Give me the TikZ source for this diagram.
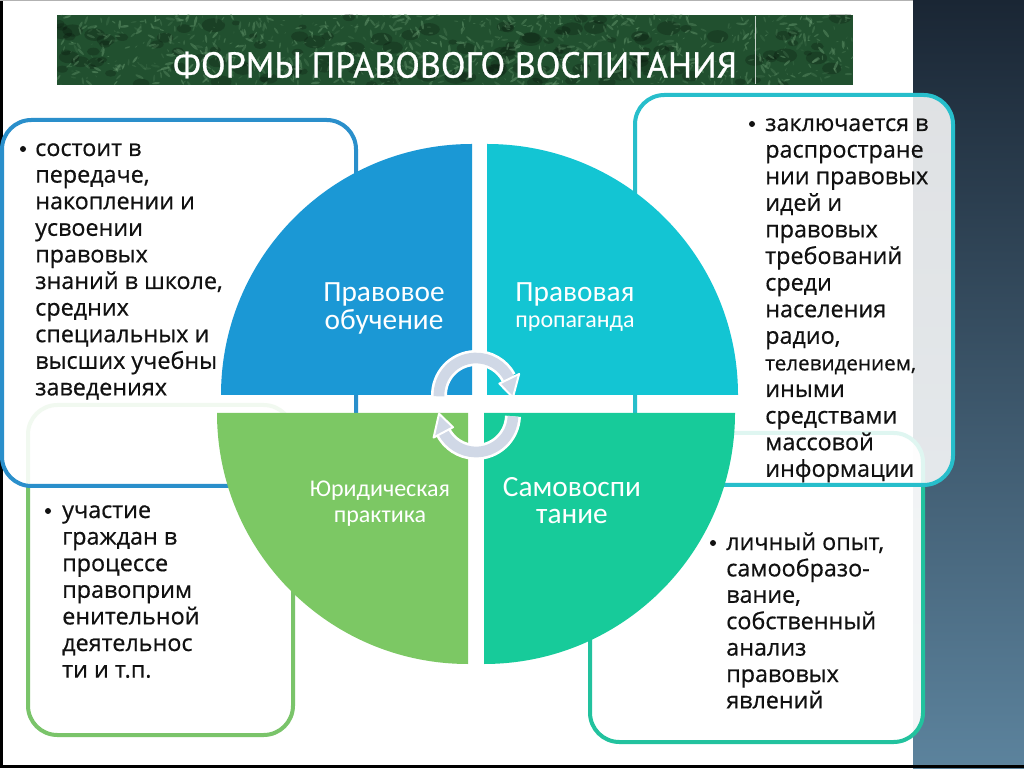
\documentclass[tikz,border=0pt]{standalone}
\usepackage{fontspec}
\setmainfont[FakeBold=0.6]{Open Sans}
\newfontfamily\labfont{Carlito}
\newfontfamily\titlefont[FakeBold=0.8]{PT Sans}
\usetikzlibrary{calc}
\definecolor{stripTop}{HTML}{1A2634}
\definecolor{stripMid}{HTML}{34506A}
\definecolor{stripBot}{HTML}{5C839D}
\definecolor{bannerBase}{HTML}{21502F}
\definecolor{bannerDot}{HTML}{6A9C72}
\definecolor{qTL}{HTML}{1B98D5}
\definecolor{qTR}{HTML}{13C5D3}
\definecolor{qBL}{HTML}{7CC864}
\definecolor{qBR}{HTML}{17CB9A}
\definecolor{bTL}{HTML}{2A8FCB}
\definecolor{bTR}{HTML}{27BECB}
\definecolor{bBL}{HTML}{7AC46A}
\definecolor{bBR}{HTML}{22C29E}
\definecolor{arrowFill}{HTML}{D0D8E6}
\definecolor{bodyText}{HTML}{111111}
\tikzset{
  infobox/.style={line width=3pt, rounded corners=22, fill=white},
  bodytext/.style={anchor=base west, align=left, inner sep=0pt, text=bodyText,
    font=\fontsize{17.5}{19.95}\selectfont},
  quadlabel/.style={anchor=base, align=center, inner sep=0pt, text=white},
  bulletdot/.style={fill=bodyText},
  arrowband/.style={line width=12, white},
  arrowcore/.style={line width=8, arrowFill},
  arrowhead/.style={fill=arrowFill, draw=white, line width=1.5pt, line join=round}
}
\begin{document}
\begin{tikzpicture}[x=0.75pt,y=0.75pt]
\useasboundingbox (0,0) rectangle (1024,768);
\fill[white] (0,0) rectangle (1024,768);
% right background strip
\shade[top color=stripTop, middle color=stripMid, bottom color=stripBot] (913,0) rectangle (1024,768);
% frame lines
\fill[black] (0,0) rectangle (2.5,768);
\fill[black] (0,0) rectangle (1024,3);
\fill[gray!60] (0,766.5) rectangle (913,768);

% title banner
\begin{scope}
\clip (57,683) rectangle (853,753);
\fill[bannerBase] (57,683) rectangle (853,753);
\pgfmathsetseed{11}
\foreach \i in {1,...,120} {
  \pgfmathsetmacro{\px}{57+796*rnd}
  \pgfmathsetmacro{\py}{683+70*rnd}
  \pgfmathsetmacro{\pr}{4+8*rnd}
  \fill[black, opacity=0.2] (\px,\py) ellipse ({\pr} and {0.6*\pr});
}
\foreach \i in {1,...,900} {
  \pgfmathsetmacro{\px}{57+796*rnd}
  \pgfmathsetmacro{\py}{683+70*rnd}
  \pgfmathsetmacro{\pr}{0.6+2.2*rnd}
  \pgfmathsetmacro{\po}{0.15+0.35*rnd}
  \pgfmathsetmacro{\pa}{360*rnd}
  \fill[bannerDot, opacity=\po, rotate around={\pa:(\px,\py)}] (\px,\py) ellipse ({1.8*\pr} and {0.5*\pr});
}
\end{scope}
\draw[white!75!bannerBase, line width=0.6pt] (755,684) -- (755,752);
\node[text=white, font=\titlefont\fontsize{27}{29}\selectfont, inner sep=0pt] (title) at (455,703) {ФОРМЫ ПРАВОВОГО ВОСПИТАНИЯ};

% info boxes (lower ones first)
\draw[infobox, draw=bBL] (28,33) rectangle (293,363);
\draw[infobox, draw=bBR, fill opacity=0.93] (590,26) rectangle (923,335);
\draw[infobox, draw=bTL, fill opacity=0.9] (2,282) rectangle (356,648);
\draw[infobox, draw=bTR, fill opacity=0.86] (635,283) rectangle (953,673);

% circle quadrants
\fill[qTL] (472,373) -- (221,373) arc[start angle=180, end angle=90, radius=251] -- cycle;
\fill[qTR] (487,373) -- (487,624) arc[start angle=90, end angle=0, radius=251] -- cycle;
\fill[qBL] (468,355) -- (217,355) arc[start angle=180, end angle=270, radius=251] -- cycle;
\fill[qBR] (484,355) -- (735,355) arc[start angle=0, end angle=-90, radius=251] -- cycle;

% cycle arrows
\draw[arrowband] (476,373) ++(182:37) arc[start angle=182, end angle=28, radius=37];
\draw[arrowcore] (476,373) ++(182:37) arc[start angle=182, end angle=26, radius=37];
\filldraw[arrowhead] ($(476,373)+(26:26)$) -- ($(476,373)+(26:48)$) -- ($(476,373)+(-4:37)$) -- cycle;
\draw[arrowband] (476,353) ++(-2:37) arc[start angle=-2, end angle=-154, radius=37];
\draw[arrowcore] (476,353) ++(-2:37) arc[start angle=-2, end angle=-152, radius=37];
\filldraw[arrowhead] ($(476,353)+(-152:26)$) -- ($(476,353)+(-152:48)$) -- ($(476,353)+(-182:37)$) -- cycle;

% quadrant labels (anchor = baseline of last line)
\node[quadlabel, font=\labfont\fontsize{22}{21}\selectfont] (lab1) at (384,438) {Правовое\\обучение};
\node[quadlabel, font=\labfont\fontsize{22}{21}\selectfont] (lab2a) at (575,466) {Правовая};
\node[quadlabel, font=\labfont\fontsize{18}{18}\selectfont] (lab2b) at (575,440) {пропаганда};
\node[quadlabel, font=\labfont\fontsize{18}{19.5}\selectfont] (lab3) at (380,246) {Юридическая\\практика};
\node[quadlabel, font=\labfont\fontsize{22}{21}\selectfont] (lab4) at (572,244) {Самовоспи\\тание};

% box texts (anchor = baseline of last line)
\fill[bulletdot] (23,619) circle (3);
\node[bodytext] (tltext) at (35,372.6) {состоит в\\передаче,\\накоплении и\\усвоении\\правовых\\знаний в школе,\\средних\\специальных и\\высших учебны\\заведениях};
\fill[bulletdot] (752,644) circle (3);
\node[bodytext] (trtext) at (765,291.2) {заключается в\\распростране\\нии правовых\\идей и\\правовых\\требований\\среди\\населения\\радио,\\{\fontsize{15.5}{19.95}\selectfont телевидением,}\\иными\\средствами\\массовой\\информации};
\fill[bulletdot] (48,257) circle (3);
\node[bodytext] (bltext) at (62,90.4) {участие\\граждан в\\процессе\\правоприм\\енительной\\деятельнос\\ти и т.п.};
\fill[bulletdot] (713,225) circle (3);
\node[bodytext, font=\fontsize{17.5}{19.8}\selectfont] (brtext) at (726,59.6) {личный опыт,\\самообразо-\\вание,\\собственный\\анализ\\правовых\\явлений};
\end{tikzpicture}
\end{document}
